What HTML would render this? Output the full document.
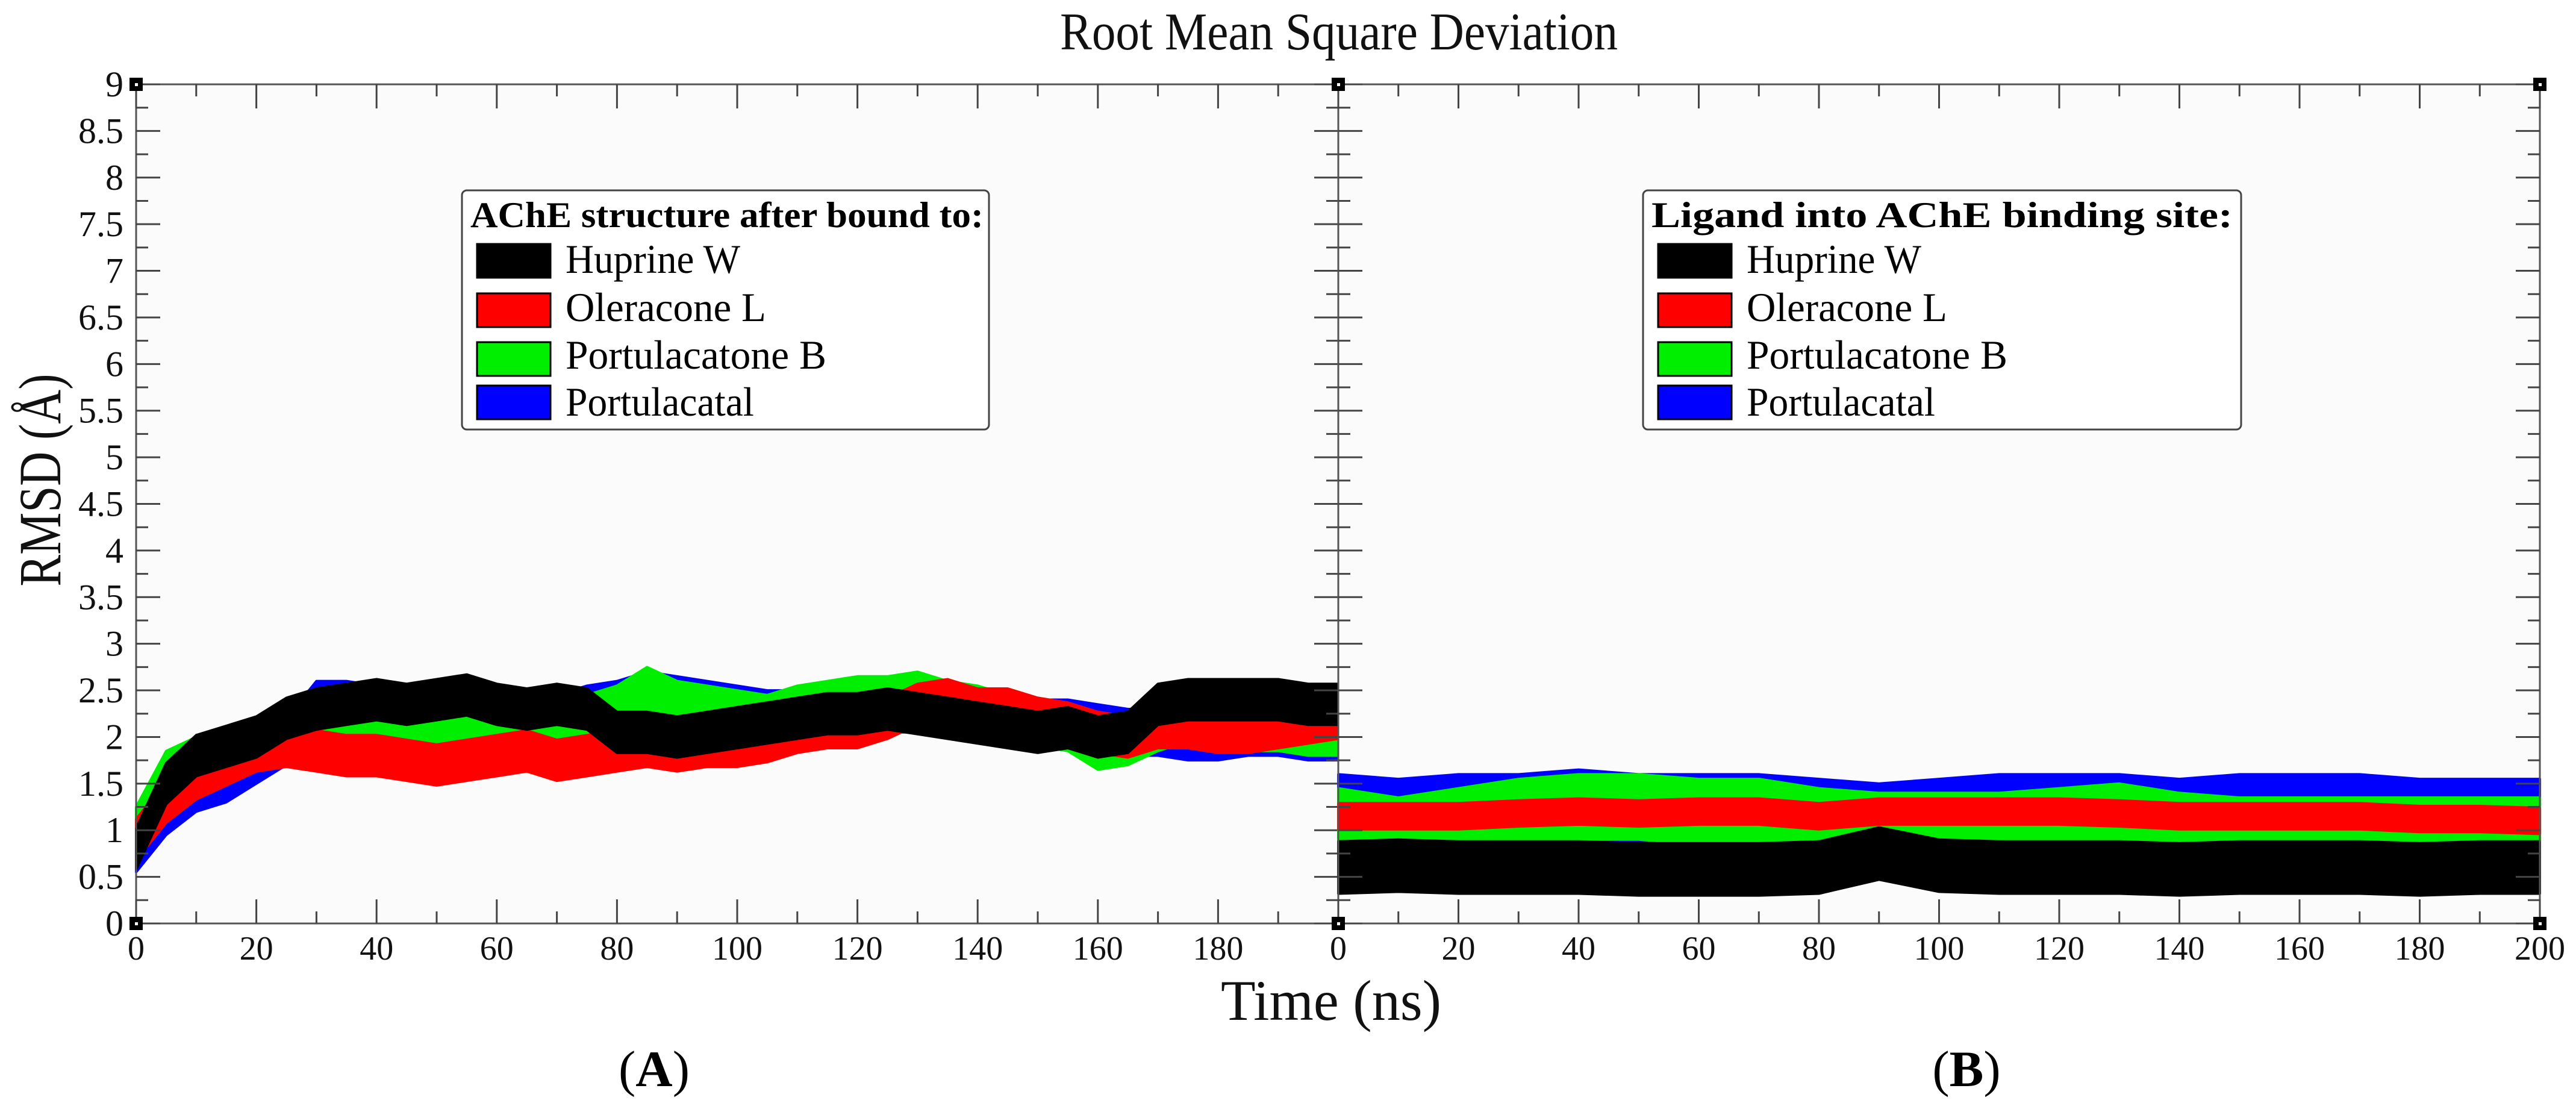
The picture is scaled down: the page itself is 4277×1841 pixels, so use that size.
<!DOCTYPE html>
<html><head><meta charset="utf-8"><style>
html,body{margin:0;padding:0;background:#fff;}
svg{display:block;font-family:"Liberation Serif",serif;}
</style></head><body>
<svg id="chart" xmlns="http://www.w3.org/2000/svg" width="4277" height="1841" viewBox="0 0 4277 1841">
<rect x="0" y="0" width="4277" height="1841" fill="#ffffff"/>
<text x="2223" y="82" font-size="88" text-anchor="middle" textLength="926" lengthAdjust="spacingAndGlyphs" fill="#111">Root Mean Square Deviation</text>
<text transform="translate(100,797) rotate(-90)" font-size="100" text-anchor="middle" textLength="353" lengthAdjust="spacingAndGlyphs" fill="#111">RMSD (Å)</text>
<text x="2210" y="1693" font-size="95" text-anchor="middle" textLength="366" lengthAdjust="spacingAndGlyphs" fill="#111">Time (ns)</text>
<text x="1086" y="1803" font-size="85" text-anchor="middle" fill="#000">(<tspan font-weight="bold">A</tspan>)</text>
<text x="3265" y="1803" font-size="85" text-anchor="middle" fill="#000">(<tspan font-weight="bold">B</tspan>)</text>
<g id="panels"></g>
</svg>
<script>
// ---- data ----
const timesA = [0,5,10,15,20,25,30,35,40,45,50,55,60,65,70,75,80,85,90,95,100,105,110,115,120,125,130,135,140,145,150,155,160,165,170,175,180,185,190,195,200];
const hupA = [0.8,1.5,1.8,1.9,2.0,2.2,2.3,2.35,2.4,2.35,2.4,2.45,2.35,2.3,2.35,2.3,2.05,2.05,2.0,2.05,2.1,2.15,2.2,2.25,2.25,2.3,2.25,2.2,2.15,2.1,2.05,2.1,2.0,2.05,2.35,2.4,2.4,2.4,2.4,2.35,2.35];
const oleA = [0.9,1.3,1.55,1.7,1.85,1.9,1.85,1.8,1.8,1.75,1.7,1.75,1.8,1.85,1.75,1.8,1.85,1.9,1.85,1.9,1.9,1.95,2.05,2.1,2.1,2.2,2.35,2.4,2.3,2.3,2.2,2.15,2.05,2.0,2.1,2.1,2.05,2.05,2.1,2.15,2.2];
const porBA = [1.0,1.6,1.75,1.85,1.95,2.05,2.0,1.95,2.0,2.05,2.1,2.15,2.2,2.15,2.1,2.2,2.3,2.5,2.35,2.3,2.25,2.2,2.3,2.35,2.4,2.4,2.45,2.35,2.3,2.2,2.15,2.1,1.9,1.95,2.1,2.2,2.15,2.1,2.1,2.05,2.05];
const porA = [0.8,1.2,1.45,1.55,1.75,1.95,2.35,2.35,2.3,2.2,2.15,2.15,2.1,2.1,2.2,2.3,2.35,2.45,2.4,2.35,2.3,2.25,2.25,2.3,2.35,2.3,2.3,2.25,2.25,2.25,2.15,2.15,2.1,2.05,2.05,2.0,2.0,2.05,2.05,2.0,2.0];
const spreadA = [0.22,0.22,0.25,0.25];

const timesB = [0,10,20,30,40,50,60,70,80,90,100,110,120,130,140,150,160,170,180,190,200];
const hupB = [0.6,0.62,0.6,0.6,0.6,0.58,0.58,0.58,0.6,0.75,0.62,0.6,0.6,0.6,0.58,0.6,0.6,0.6,0.58,0.6,0.6];
const oleB = [1.15,1.15,1.15,1.18,1.2,1.18,1.2,1.2,1.15,1.2,1.2,1.2,1.2,1.18,1.15,1.15,1.15,1.15,1.12,1.12,1.1];
const porBB = [1.1,1.0,1.1,1.2,1.25,1.25,1.2,1.2,1.1,1.05,1.05,1.05,1.1,1.15,1.05,1.0,1.0,1.0,1.0,1.0,1.0];
const porB = [1.1,1.05,1.1,1.1,1.15,1.1,1.1,1.1,1.05,1.0,1.05,1.1,1.1,1.1,1.05,1.1,1.1,1.1,1.05,1.05,1.05];
const spreadB = [0.28,0.14,0.35,0.5];

const seriesNames = ["Huprine W","Oleracone L","Portulacatone B","Portulacatal"];
const seriesColors = ["#000000","#ff0000","#00ee00","#0000ff"];
const yTicks = [0,0.5,1,1.5,2,2.5,3,3.5,4,4.5,5,5.5,6,6.5,7,7.5,8,8.5,9];
const xTicksA = [0,20,40,60,80,100,120,140,160,180];
const xTicksB = [0,20,40,60,80,100,120,140,160,180,200];

// ---- drawing ----
const NS = "http://www.w3.org/2000/svg";
const root = document.getElementById("panels");
function mk(tag, attrs, parent){const e=document.createElementNS(NS,tag);for(const k in attrs)e.setAttribute(k,attrs[k]);(parent||root).appendChild(e);return e;}
const TOP=140, BOT=1533;
function yS(v){return BOT-(v/9)*(BOT-TOP);}

function drawPanel(id, L, R, times, data, spread, xTicks, showY, legendX, legendW, legendTitle, legendLen){
  const xS = t => L + (t/200)*(R-L);
  const g = mk("g",{});
  
  
  const bg = mk("rect",{x:L,y:TOP,width:R-L,height:BOT-TOP,fill:"#fbfbfb"},g);
  
  
  const order=[3,2,1,0];
  order.forEach(si=>{
    const vals=data[si], s=spread[si];
    let pts=[];
    for(let i=0;i<times.length;i++){pts.push(xS(times[i]).toFixed(1)+","+yS(vals[i]+s).toFixed(1));}
    for(let i=times.length-1;i>=0;i--){pts.push(xS(times[i]).toFixed(1)+","+yS(Math.max(0,vals[i]-s)).toFixed(1));}
    const p=mk("polygon",{points:pts.join(" "),fill:seriesColors[si],stroke:seriesColors[si],"stroke-width":4,"stroke-linejoin":"round"},g);
    
    
  });
  // frame
  const fr=mk("rect",{x:L,y:TOP,width:R-L,height:BOT-TOP,fill:"none",stroke:"#555","stroke-width":3},g);
  
  
  // x ticks every 10
  for(let t=0;t<=200;t+=10){
    const x=xS(t), len=(t%20===0)?40:20;
    mk("line",{x1:x,y1:BOT,x2:x,y2:BOT-len,stroke:"#444","stroke-width":3},g);
    mk("line",{x1:x,y1:TOP,x2:x,y2:TOP+len,stroke:"#444","stroke-width":3},g);
  }
  for(let v=0;v<=9.001;v+=0.25){
    const y=yS(v), len=(Math.abs(v*2-Math.round(v*2))<1e-6)?40:20;
    mk("line",{x1:L,y1:y,x2:L+len,y2:y,stroke:"#444","stroke-width":3},g);
    mk("line",{x1:R,y1:y,x2:R-len,y2:y,stroke:"#444","stroke-width":3},g);
  }
  xTicks.forEach(t=>{
    const tx=mk("text",{x:xS(t),y:1593,"font-size":56,"text-anchor":"middle",fill:"#111"},g);
    tx.textContent=t;
    
    
  });
  if(showY){
    yTicks.forEach(v=>{
      const tx=mk("text",{x:205,y:yS(v)+20,"font-size":60,"text-anchor":"end",fill:"#111"},g);
      tx.textContent=v;
      
      
    });
  }
  // corner squares
  [[L,TOP],[R,TOP],[L,BOT],[R,BOT]].forEach(c=>{
    mk("rect",{x:c[0]-11,y:c[1]-11,width:22,height:22,fill:"#000"},g);
    mk("rect",{x:c[0]-2,y:c[1]-2,width:5,height:5,fill:"#fff"},g);
  });
  // legend
  const lg=mk("g",{},g);
  
  
  mk("rect",{x:legendX,y:316,width:legendW,height:397,rx:8,fill:"#ffffff",stroke:"#444","stroke-width":3},lg);
  const ht=mk("text",{x:legendX+14,y:377,"font-size":60,"font-weight":"bold",textLength:legendLen,lengthAdjust:"spacingAndGlyphs",fill:"#000"},lg);
  ht.textContent=legendTitle;
  
  
  const swY=[405,487,568,640], txY=[453,533,612,690], txL=[290,333,433,313];
  for(let i=0;i<4;i++){
    const sw=mk("rect",{x:legendX+25,y:swY[i],width:122,height:56,fill:seriesColors[i],stroke:"#000","stroke-width":3},lg);
    
    
    const t=mk("text",{x:legendX+172,y:txY[i],"font-size":68,textLength:txL[i],lengthAdjust:"spacingAndGlyphs",fill:"#000"},lg);
    t.textContent=seriesNames[i];
    
    
  }
}
drawPanel("panel-a",226,2222,timesA,[hupA,oleA,porBA,porA],spreadA,xTicksA,true,767,875,"AChE structure after bound to:",852);
drawPanel("panel-b",2222,4217,timesB,[hupB,oleB,porBB,porB],spreadB,xTicksB,false,2728,993,"Ligand into AChE binding site:",965);
</script>
</body></html>
